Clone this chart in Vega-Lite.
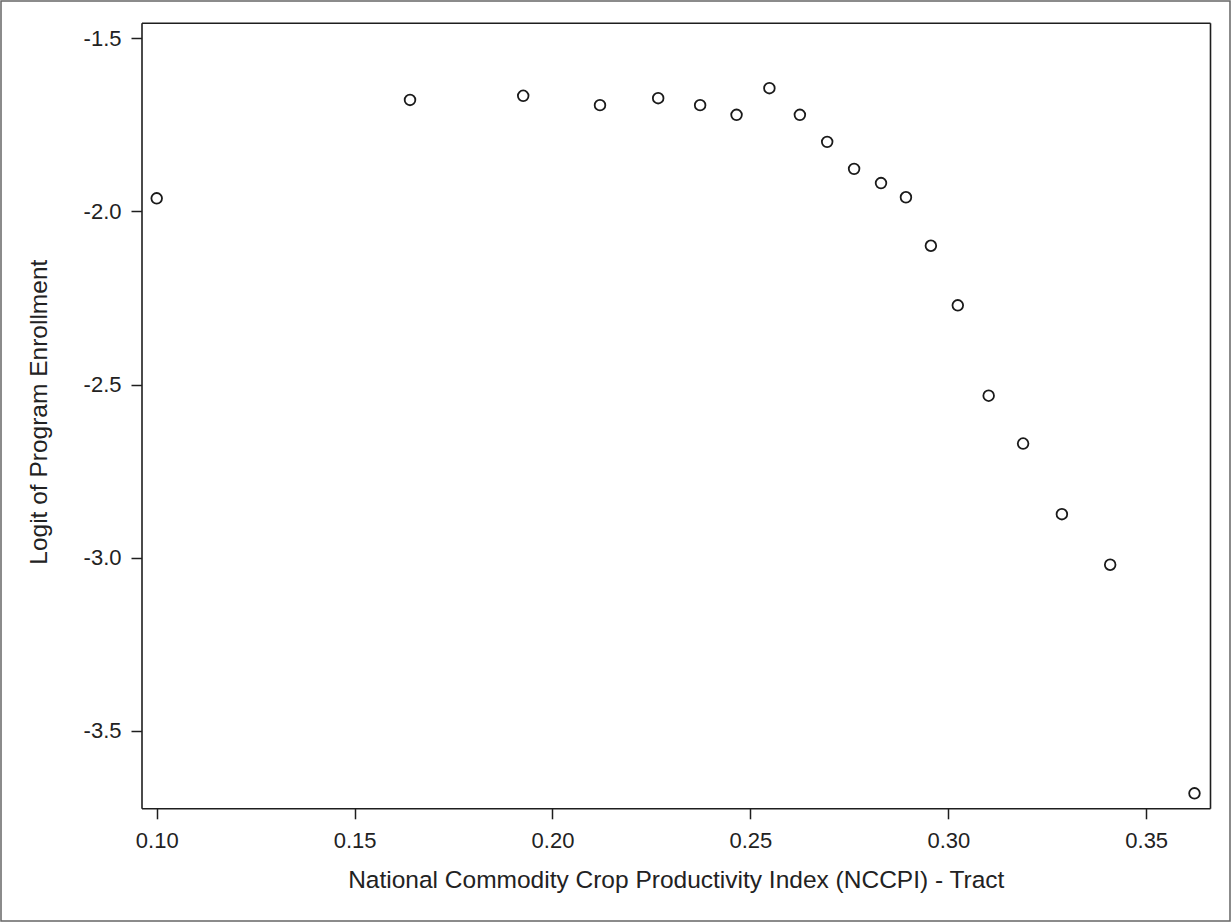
{
  "$schema": "https://vega.github.io/schema/vega-lite/v6.json",
  "width": 1229,
  "height": 920,
  "autosize": {"type": "none"},
  "padding": {"left": 1, "top": 1, "right": 1, "bottom": 1},
  "background": "white",
  "config": {
    "font": "Liberation Sans",
    "locale": {"number": {"decimal": ".", "thousands": ",", "grouping": [3], "currency": ["$", ""], "minus": "-"}},
    "view": {"stroke": "#666666", "strokeWidth": 1.5},
    "axis": {
      "grid": false,
      "domainColor": "#1e1e1e",
      "domainWidth": 1.6,
      "tickColor": "#1e1e1e",
      "tickWidth": 1.5,
      "tickSize": 10.5,
      "labelFont": "Liberation Sans",
      "labelFontSize": 22,
      "labelColor": "#222222",
      "titleFont": "Liberation Sans",
      "titleFontSize": 24.5,
      "titleFontWeight": "normal",
      "titleColor": "#222222"
    }
  },
  "data": {
    "values": [
      {"nccpi": 0.1000, "logit": -1.962},
      {"nccpi": 0.1640, "logit": -1.678},
      {"nccpi": 0.1926, "logit": -1.666},
      {"nccpi": 0.2120, "logit": -1.693},
      {"nccpi": 0.2267, "logit": -1.673},
      {"nccpi": 0.2373, "logit": -1.693},
      {"nccpi": 0.2465, "logit": -1.721},
      {"nccpi": 0.2548, "logit": -1.644},
      {"nccpi": 0.2625, "logit": -1.721},
      {"nccpi": 0.2694, "logit": -1.799},
      {"nccpi": 0.2762, "logit": -1.877},
      {"nccpi": 0.2830, "logit": -1.918},
      {"nccpi": 0.2893, "logit": -1.959},
      {"nccpi": 0.2956, "logit": -2.099},
      {"nccpi": 0.3024, "logit": -2.271},
      {"nccpi": 0.3102, "logit": -2.532},
      {"nccpi": 0.3189, "logit": -2.670},
      {"nccpi": 0.3287, "logit": -2.874},
      {"nccpi": 0.3409, "logit": -3.020},
      {"nccpi": 0.3622, "logit": -3.680}
    ]
  },
  "layer": [
    {
      "mark": {"type": "point", "shape": "circle", "filled": false, "size": 113, "strokeWidth": 1.8, "color": "#1a1a1a", "opacity": 1},
      "encoding": {
        "x": {
          "field": "nccpi",
          "type": "quantitative",
          "scale": {"domain": [0.09616, 0.36612], "range": [140.5, 1209], "zero": false, "nice": false},
          "axis": {
            "orient": "bottom",
            "offset": -112.7,
            "values": [0.10, 0.15, 0.20, 0.25, 0.30, 0.35],
            "format": ".2f",
            "labelPadding": 12,
            "title": "National Commodity Crop Productivity Index (NCCPI) - Tract",
            "titlePadding": 17
          }
        },
        "y": {
          "field": "logit",
          "type": "quantitative",
          "scale": {"domain": [-3.7232, -1.455], "range": [807.3, 21.7], "zero": false, "nice": false},
          "axis": {
            "orient": "left",
            "offset": -140.5,
            "values": [-1.5, -2.0, -2.5, -3.0, -3.5],
            "format": ".1f",
            "labelPadding": 10,
            "title": "Logit of Program Enrollment",
            "titlePadding": 32,
            "titleY": 410.7
          }
        }
      }
    },
    {
      "mark": {"type": "point", "opacity": 0},
      "encoding": {
        "x": {
          "field": "nccpi",
          "type": "quantitative",
          "axis": {"orient": "top", "offset": -21.7, "ticks": false, "labels": false, "title": null}
        },
        "y": {
          "field": "logit",
          "type": "quantitative",
          "axis": {"orient": "right", "offset": -20, "ticks": false, "labels": false, "title": null}
        }
      }
    }
  ],
  "resolve": {"axis": {"x": "independent", "y": "independent"}}
}
